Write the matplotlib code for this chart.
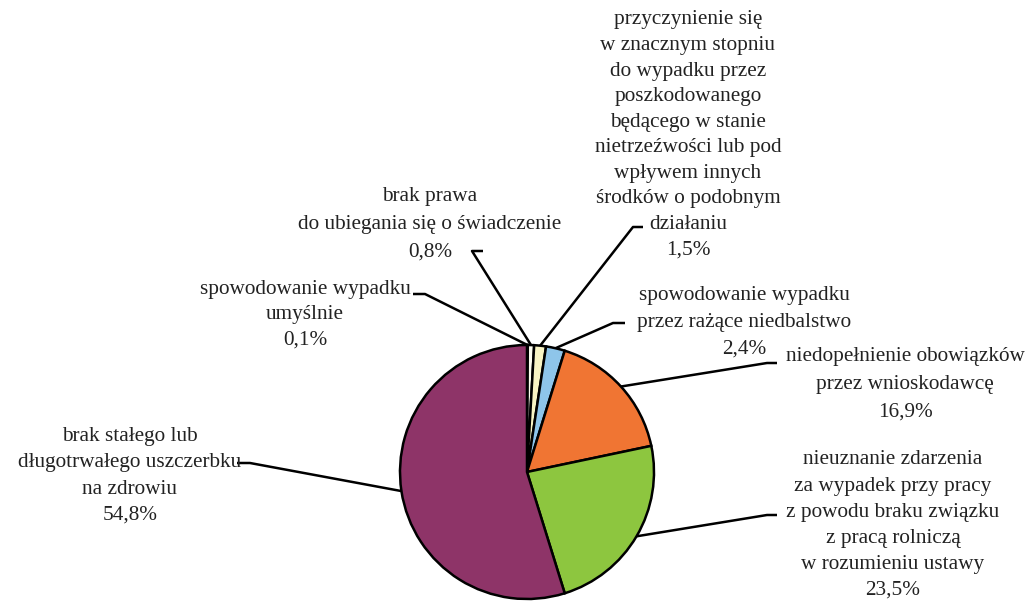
import matplotlib.pyplot as plt
import numpy as np

# Data
labels = [
    "spowodowanie wypadku\numyślnie",
    "brak prawa\ndo ubiegania się o świadczenie",
    "przyczynienie się\nw znacznym stopniu\ndo wypadku przez\nposzkodowanego\nbędącego w stanie\n"
    "nietrzeźwości lub pod\nwpływem innych\nśrodków o podobnym\ndziałaniu",
    "spowodowanie wypadku\nprzez rażące niedbalstwo",
    "niedopełnienie obowiązków\nprzez wnioskodawcę",
    "nieuznanie zdarzenia\nza wypadek przy pracy\nz powodu braku związku\nz pracą rolniczą\nw rozumieniu ustawy",
    "brak stałego lub\ndługotrwałego uszczerbku\nna zdrowiu",
]
values = [0.1, 0.8, 1.5, 2.4, 16.9, 23.5, 54.8]
colors = ["#8064A2", "#FDFDF0", "#F8F4C4", "#8EC5EA", "#F07533", "#8DC63F", "#8E3468"]

# Layout (pixel coords, y from top): text centre, leader elbow (x, y), elbow side, line spacing
text_pos = [(305, 315), (430, 224), (688, 135), (744, 322), (905, 384), (893, 525), (130, 476)]
elbows = [(413, 294, 425), (483, 251, 472), (643, 227, 633), (625, 323, 613),
          (777, 363, 767), (777, 515, 767), (237, 463, 250)]
spacing = [1.44, 1.62, 1.47, 1.56, 1.62, 1.5, 1.5]

W, H = 1030, 602
fig = plt.figure(figsize=(W / 100, H / 100), dpi=100)
ax = fig.add_axes([0, 0, 1, 1])

cx, cy, r = 527, H - 472, 127
wedges, _ = ax.pie(values, colors=colors, startangle=90, counterclock=False,
                   center=(cx, cy), radius=r, frame=True,
                   wedgeprops=dict(edgecolor="black", linewidth=1.8))
ax.set_xlim(0, W)
ax.set_ylim(0, H)
ax.set_aspect("equal")
ax.axis("off")

font = dict(family=["Liberation Serif", "DejaVu Serif"], fontsize=15.3, color="#222222")

for w, lab, v, (tx, ty), (ex, ey, ex2), ls in zip(wedges, labels, values, text_pos, elbows, spacing):
    ang = np.deg2rad((w.theta1 + w.theta2) / 2)
    sx, sy = cx + r * np.cos(ang), cy + r * np.sin(ang)
    ax.plot([sx, ex2, ex], [sy, H - ey, H - ey], color="black", lw=1.8,
            solid_capstyle="butt", zorder=0.5)
    txt = lab + "\n" + f"{v:.1f}%".replace(".", ",")
    ax.text(tx, H - ty, txt, ha="center", va="center", multialignment="center",
            linespacing=ls, **font)

fig.savefig("out.png", dpi=100)
